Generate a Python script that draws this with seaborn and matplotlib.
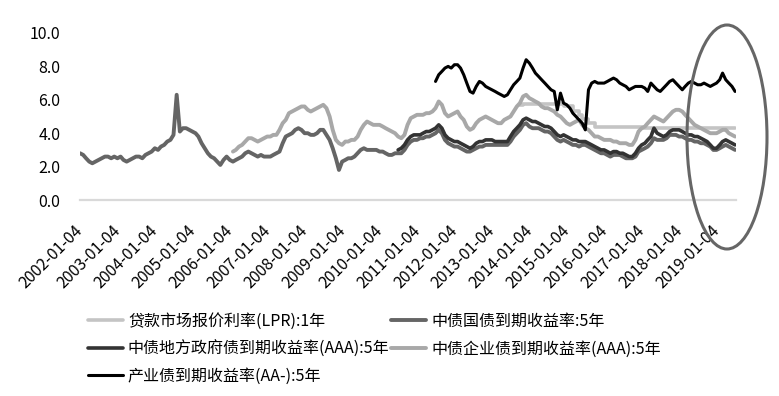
import pandas as pd
import numpy as np
import matplotlib.pyplot as plt
from matplotlib.patches import Ellipse
import seaborn as sns

# Monthly values (yield, %)
treasury_start = "2002-01-01"
treasury_5y = [
    2.8, 2.7, 2.5, 2.3, 2.2, 2.3, 2.4, 2.5, 2.6, 2.6, 2.5, 2.6,  # 2002
    2.5, 2.6, 2.4, 2.3, 2.4, 2.5, 2.6, 2.6, 2.5, 2.7, 2.8, 2.9,  # 2003
    3.1, 3.0, 3.2, 3.3, 3.5, 3.6, 3.9, 6.3, 4.1, 4.3, 4.3, 4.2,  # 2004
    4.1, 4.0, 3.8, 3.4, 3.1, 2.8, 2.6, 2.5, 2.3, 2.1, 2.4, 2.6,  # 2005
    2.4, 2.3, 2.4, 2.5, 2.6, 2.8, 2.9, 2.8, 2.7, 2.6, 2.7, 2.6,  # 2006
    2.6, 2.6, 2.7, 2.8, 2.9, 3.4, 3.8, 3.9, 4.0, 4.2, 4.3, 4.2,  # 2007
    4.0, 4.0, 3.9, 3.9, 4.0, 4.2, 4.2, 3.9, 3.6, 3.1, 2.5, 1.8,  # 2008
    2.3, 2.4, 2.5, 2.5, 2.6, 2.8, 3.0, 3.1, 3.0, 3.0, 3.0, 3.0,  # 2009
    2.9, 2.9, 2.8, 2.7, 2.7, 2.8, 2.8, 2.8, 3.0, 3.3, 3.5, 3.6,  # 2010
    3.6, 3.7, 3.7, 3.8, 3.8, 3.9, 4.0, 4.2, 4.0, 3.6, 3.4, 3.3,  # 2011
    3.2, 3.2, 3.1, 3.0, 2.9, 2.9, 3.0, 3.1, 3.2, 3.2, 3.3, 3.3,  # 2012
    3.3, 3.3, 3.3, 3.3, 3.3, 3.3, 3.5, 3.8, 4.0, 4.2, 4.5, 4.6,  # 2013
    4.4, 4.3, 4.3, 4.3, 4.2, 4.1, 4.1, 4.0, 3.8, 3.6, 3.5, 3.6,  # 2014
    3.5, 3.4, 3.3, 3.3, 3.2, 3.3, 3.3, 3.2, 3.1, 3.0, 2.9, 2.8,  # 2015
    2.8, 2.7, 2.6, 2.7, 2.7, 2.7, 2.6, 2.5, 2.5, 2.5, 2.6, 2.9,  # 2016
    3.0, 3.1, 3.2, 3.4, 3.7, 3.6, 3.6, 3.6, 3.7, 3.9, 3.9, 3.9,  # 2017
    3.8, 3.8, 3.7, 3.6, 3.6, 3.5, 3.5, 3.4, 3.4, 3.3, 3.2, 3.0,  # 2018
    3.0, 3.1, 3.2, 3.3, 3.2, 3.1, 3.0,                           # 2019
]

local_start = "2010-07-01"
local_gov_aaa_5y = [
    3.0, 3.1, 3.3, 3.6, 3.8, 3.9,
    3.9, 3.9, 4.0, 4.1, 4.1, 4.2, 4.3, 4.5, 4.3, 3.9, 3.7, 3.6,
    3.5, 3.5, 3.4, 3.3, 3.2, 3.1, 3.2, 3.4, 3.5, 3.5, 3.6, 3.6,
    3.6, 3.5, 3.5, 3.5, 3.5, 3.5, 3.8, 4.1, 4.3, 4.5, 4.8, 4.9,
    4.8, 4.7, 4.7, 4.6, 4.5, 4.4, 4.4, 4.3, 4.1, 3.9, 3.8, 3.9,
    3.8, 3.7, 3.6, 3.6, 3.5, 3.5, 3.5, 3.4, 3.3, 3.2, 3.1, 3.0,
    3.0, 2.9, 2.8, 2.9, 2.9, 2.8, 2.8, 2.7, 2.6, 2.6, 2.8, 3.1,
    3.3, 3.4, 3.6, 3.8, 4.3, 4.0, 3.9, 3.8, 3.9, 4.1, 4.2, 4.2,
    4.2, 4.1, 4.0, 3.9, 3.9, 3.8, 3.8, 3.7, 3.6, 3.5, 3.3, 3.1,
    3.1, 3.3, 3.5, 3.6, 3.5, 3.4, 3.3,
]

corp_start = "2006-02-01"
corp_aaa_5y = [
    2.9, 3.0, 3.2, 3.3, 3.5, 3.7, 3.7, 3.6, 3.5, 3.6, 3.7,
    3.8, 3.8, 3.9, 3.9, 4.2, 4.6, 4.8, 5.2, 5.3, 5.4, 5.5, 5.6,
    5.6, 5.4, 5.3, 5.4, 5.5, 5.6, 5.7, 5.5, 5.0, 4.2, 3.6, 3.4,
    3.3, 3.5, 3.5, 3.6, 3.6, 3.8, 4.2, 4.5, 4.7, 4.6, 4.5, 4.5,
    4.5, 4.4, 4.3, 4.2, 4.1, 4.0, 3.8, 3.7, 3.9, 4.5, 4.9, 5.0,
    5.1, 5.1, 5.1, 5.2, 5.2, 5.3, 5.5, 5.9, 5.7, 5.2, 5.0, 5.1,
    5.2, 5.3, 5.0, 4.8, 4.4, 4.2, 4.3, 4.6, 4.8, 4.9, 5.0, 4.9,
    4.8, 4.7, 4.6, 4.6, 4.8, 4.9, 5.0, 5.3, 5.6, 5.8, 6.2, 6.3,
    6.1, 6.0, 5.9, 5.8, 5.6, 5.5, 5.5, 5.4, 5.3, 5.1, 5.0, 4.8,
    4.6, 4.5, 4.6, 4.7, 4.8, 4.5, 4.3, 4.2, 4.0, 3.8, 3.8, 3.7,
    3.6, 3.6, 3.6, 3.5, 3.5, 3.4, 3.4, 3.4, 3.3, 3.3, 3.6, 4.1,
    4.3, 4.4, 4.6, 4.8, 5.0, 4.9, 4.8, 4.7, 4.9, 5.1, 5.3, 5.4,
    5.4, 5.3, 5.1, 4.9, 4.7, 4.5, 4.4, 4.3, 4.2, 4.1, 4.0, 4.0,
    4.0, 4.1, 4.2, 4.2, 4.0, 3.9, 3.8,
]

industry_start = "2011-07-01"
industry_aa_minus_5y = [
    7.1, 7.5, 7.7, 7.9, 8.0, 7.9,
    8.1, 8.1, 7.9, 7.5, 7.0, 6.5, 6.4, 6.8, 7.1, 7.0, 6.8, 6.7,
    6.6, 6.5, 6.4, 6.3, 6.2, 6.3, 6.6, 6.9, 7.1, 7.3, 7.9, 8.4,
    8.2, 7.9, 7.6, 7.4, 7.2, 7.0, 6.8, 6.6, 6.5, 5.4, 6.4, 5.8,
    5.7, 5.5, 5.2, 5.0, 4.8, 4.6, 4.2, 6.6, 7.0, 7.1, 7.0, 7.0,
    7.0, 7.1, 7.2, 7.3, 7.2, 7.0, 6.9, 6.8, 6.6, 6.7, 6.8, 6.8,
    6.8, 6.7, 6.5, 7.0, 6.8, 6.6, 6.5, 6.7, 6.9, 7.1, 7.2, 7.0,
    6.8, 6.6, 6.8, 7.0, 7.1, 7.0, 6.9, 6.9, 7.0, 6.9, 6.8, 6.9,
    7.0, 7.2, 7.6, 7.2, 7.0, 6.8, 6.5,
]

lpr_start = "2013-10-01"
lpr_1y = [
    5.71, 5.72, 5.73,
    5.77, 5.77, 5.77, 5.77, 5.77, 5.77, 5.77, 5.77, 5.77, 5.77, 5.76, 5.60,
    5.60, 5.60, 5.35, 5.35, 5.10, 4.85, 4.85, 4.60, 4.60, 4.35, 4.35, 4.35,
    4.35, 4.35, 4.35, 4.35, 4.35, 4.35, 4.35, 4.35, 4.35, 4.35, 4.35, 4.35,
    4.30, 4.30, 4.30, 4.30, 4.30, 4.30, 4.30, 4.30, 4.30, 4.30, 4.30, 4.30,
    4.31, 4.31, 4.31, 4.31, 4.31, 4.31, 4.31, 4.31, 4.31, 4.31, 4.31, 4.31,
    4.31, 4.31, 4.31, 4.31, 4.31, 4.31, 4.31,
]

series_names = [
    "贷款市场报价利率(LPR):1年",
    "中债国债到期收益率:5年",
    "中债地方政府债到期收益率(AAA):5年",
    "中债企业债到期收益率(AAA):5年",
    "产业债到期收益率(AA-):5年",
]
tick_years = list(range(2002, 2020))

# style
sns.set_theme(style="white")
plt.rcParams["font.family"] = ["Noto Sans CJK SC", "DejaVu Sans"]
plt.rcParams.update({
    "text.color": "black",
    "xtick.color": "black",
    "ytick.color": "black",
})

series = [
    (lpr_start, lpr_1y, "#c4c4c4", 2.6, "steps-post"),
    (treasury_start, treasury_5y, "#656565", 2.8, "default"),
    (local_start, local_gov_aaa_5y, "#333333", 2.6, "default"),
    (corp_start, corp_aaa_5y, "#a8a8a8", 2.8, "default"),
    (industry_start, industry_aa_minus_5y, "#000000", 2.2, "default"),
]

fig, ax = plt.subplots(figsize=(7.79, 3.96), dpi=100)
fig.subplots_adjust(left=0.1027, right=0.9448, bottom=0.4949, top=0.9167)

for name, (start, vals, color, lw, ds) in zip(series_names, series):
    dates = pd.date_range(start, periods=len(vals), freq="MS")
    sns.lineplot(x=dates, y=vals, ax=ax, color=color, lw=lw,
                 drawstyle=ds, label=name)

ax.set_xlim(pd.Timestamp(treasury_start), pd.Timestamp("2019-07-10"))
ax.set_ylim(0, 10)
ax.set_yticks(np.arange(0, 10.1, 2))
ax.set_yticklabels([f"{v:.1f}" for v in np.arange(0, 10.1, 2)], fontsize=11.5)

ticks = pd.to_datetime([f"{y}-01-04" for y in tick_years])
ax.set_xticks(ticks)
ax.set_xticklabels([t.strftime("%Y-%m-%d") for t in ticks], rotation=45,
                   ha="right", va="center", rotation_mode="anchor", fontsize=11.5)
ax.tick_params(axis="x", length=0, pad=20)
ax.tick_params(axis="y", length=0, pad=14)
ax.set_xlabel("")
ax.set_ylabel("")
ax.grid(False)

sns.despine(ax=ax, left=True)
ax.spines["bottom"].set_color("#d9d9d9")
ax.spines["bottom"].set_linewidth(1.6)

# legend, 2 columns, filled row by row
handles, labels = ax.get_legend_handles_labels()
ax.get_legend().remove()
order = [0, 2, 4, 1, 3]
fig.legend([handles[i] for i in order], [labels[i] for i in order],
           ncol=2, loc="upper left", bbox_to_anchor=(88 / 779, 1 - 313 / 396),
           frameon=False, fontsize=11.5, handlelength=2.2, handletextpad=0.3,
           columnspacing=0.1, labelspacing=0.65, borderpad=0, borderaxespad=0)

# the hand-drawn ellipse on the right
fig.add_artist(Ellipse((727 / 779, 1 - 137 / 396), 80 / 779, 224 / 396,
                       transform=fig.transFigure, fill=False,
                       edgecolor="#666666", lw=2.2))

plt.savefig("out.png", dpi=100)
